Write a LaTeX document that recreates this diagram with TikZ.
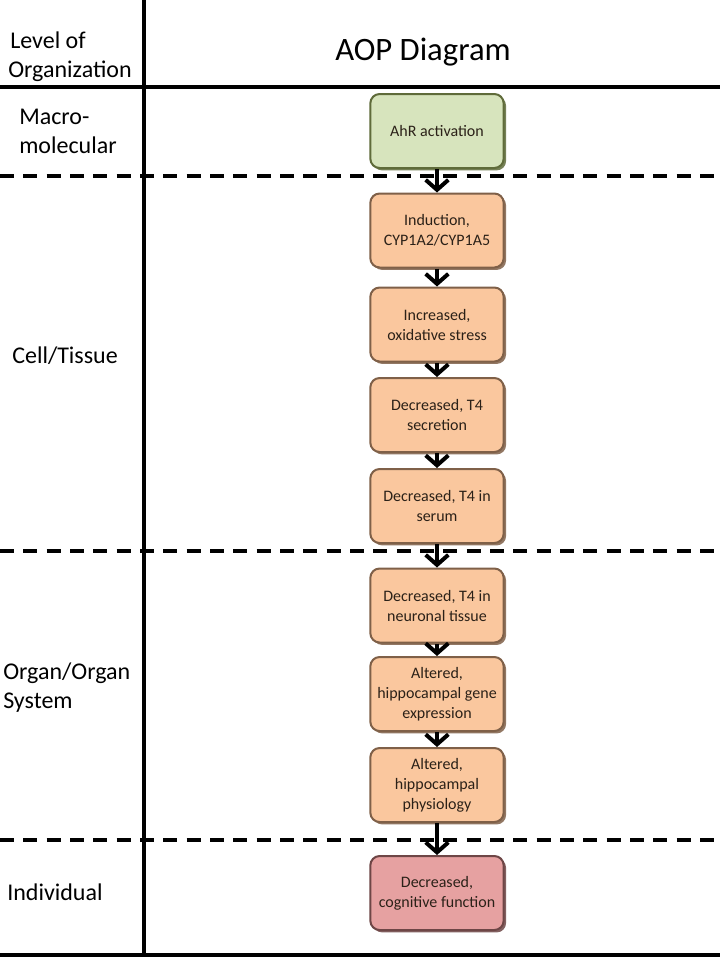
\documentclass[tikz,border=0pt]{standalone}
\usepackage{fontspec}
\setmainfont{Carlito}
\usetikzlibrary{arrows.meta,shadows}
\definecolor{gfill}{HTML}{D7E4BD}
\definecolor{gdraw}{HTML}{5F6B3A}
\definecolor{ofill}{HTML}{FAC79E}
\definecolor{odraw}{HTML}{7F6048}
\definecolor{pfill}{HTML}{E6A1A1}
\definecolor{pdraw}{HTML}{6E4646}
\definecolor{btext}{HTML}{2B2118}
\tikzset{
  evbox/.style={rounded corners=7pt, line width=1.5pt, minimum width=100pt, minimum height=55.5pt,
    align=center, text=btext, font=\fontsize{12}{15}\selectfont, inner sep=2pt},
  gbox/.style={evbox, fill=gfill, draw=gdraw, drop shadow={shadow xshift=1.8pt, shadow yshift=-1.8pt, fill=gdraw, opacity=0.85}},
  obox/.style={evbox, fill=ofill, draw=odraw, drop shadow={shadow xshift=1.8pt, shadow yshift=-1.8pt, fill=odraw, opacity=0.85}},
  pbox/.style={evbox, fill=pfill, draw=pdraw, drop shadow={shadow xshift=1.8pt, shadow yshift=-1.8pt, fill=pdraw, opacity=0.85}},
  arr/.style={line width=3pt, -{Straight Barb[length=7.5pt, width=17pt, line width=3pt]}},
  solidline/.style={line width=3pt},
  dashline/.style={line width=2.4pt, dash pattern=on 10.5pt off 7pt},
  lvl/.style={anchor=base west, inner sep=0pt, font=\fontsize{18}{22}\selectfont},
}
\begin{document}
\begin{tikzpicture}[x=0.75pt, y=-0.75pt]
\useasboundingbox (0,0) rectangle (720,960);
\fill[white] (0,0) rectangle (720,960);
% frame lines
\draw[solidline] (0,87) -- (720,87);
\draw[solidline] (0,955) -- (720,955);
\draw[solidline] (144,0) -- (144,957);
\draw[dashline] (0,176) -- (720,176);
\draw[dashline] (0,551) -- (720,551);
\draw[dashline] (0,840) -- (720,840);
% headers
\node[lvl] (h1) at (10,48) {Level of};
\node[lvl] (h2) at (8,77) {Organization};
\node[anchor=base, inner sep=0pt, font=\fontsize{24.5}{28}\selectfont] (title) at (423,60) {AOP Diagram};
% level labels
\node[lvl] (l1) at (19,124) {Macro-};
\node[lvl] (l2) at (19,153) {molecular};
\node[lvl] (l3) at (12,363) {Cell/Tissue};
\node[lvl] (l4) at (3,679) {Organ/Organ};
\node[lvl] (l5) at (3,708) {System};
\node[lvl] (l6) at (7,900) {Individual};
% boxes
\node[gbox] (b1) at (437,131) {AhR activation};
\node[obox] (b2) at (437,230.5) {Induction,\\CYP1A2/CYP1A5};
\node[obox] (b3) at (437,324.5) {Increased,\\oxidative stress};
\node[obox] (b4) at (437,415) {Decreased, T4\\secretion};
\node[obox] (b5) at (437,506) {Decreased, T4 in\\serum};
\node[obox] (b6) at (437,605.5) {Decreased, T4 in\\neuronal tissue};
\node[obox] (b7) at (437,694) {Altered,\\hippocampal gene\\expression};
\node[obox] (b8) at (437,785) {Altered,\\hippocampal\\physiology};
\node[pbox] (b9) at (437,893) {Decreased,\\cognitive function};
% arrows
\foreach \a/\b in {b1/b2,b2/b3,b3/b4,b4/b5,b5/b6,b6/b7,b7/b8,b8/b9}
  \draw[arr] (\a.south) -- (\b.north);
\end{tikzpicture}
\end{document}
